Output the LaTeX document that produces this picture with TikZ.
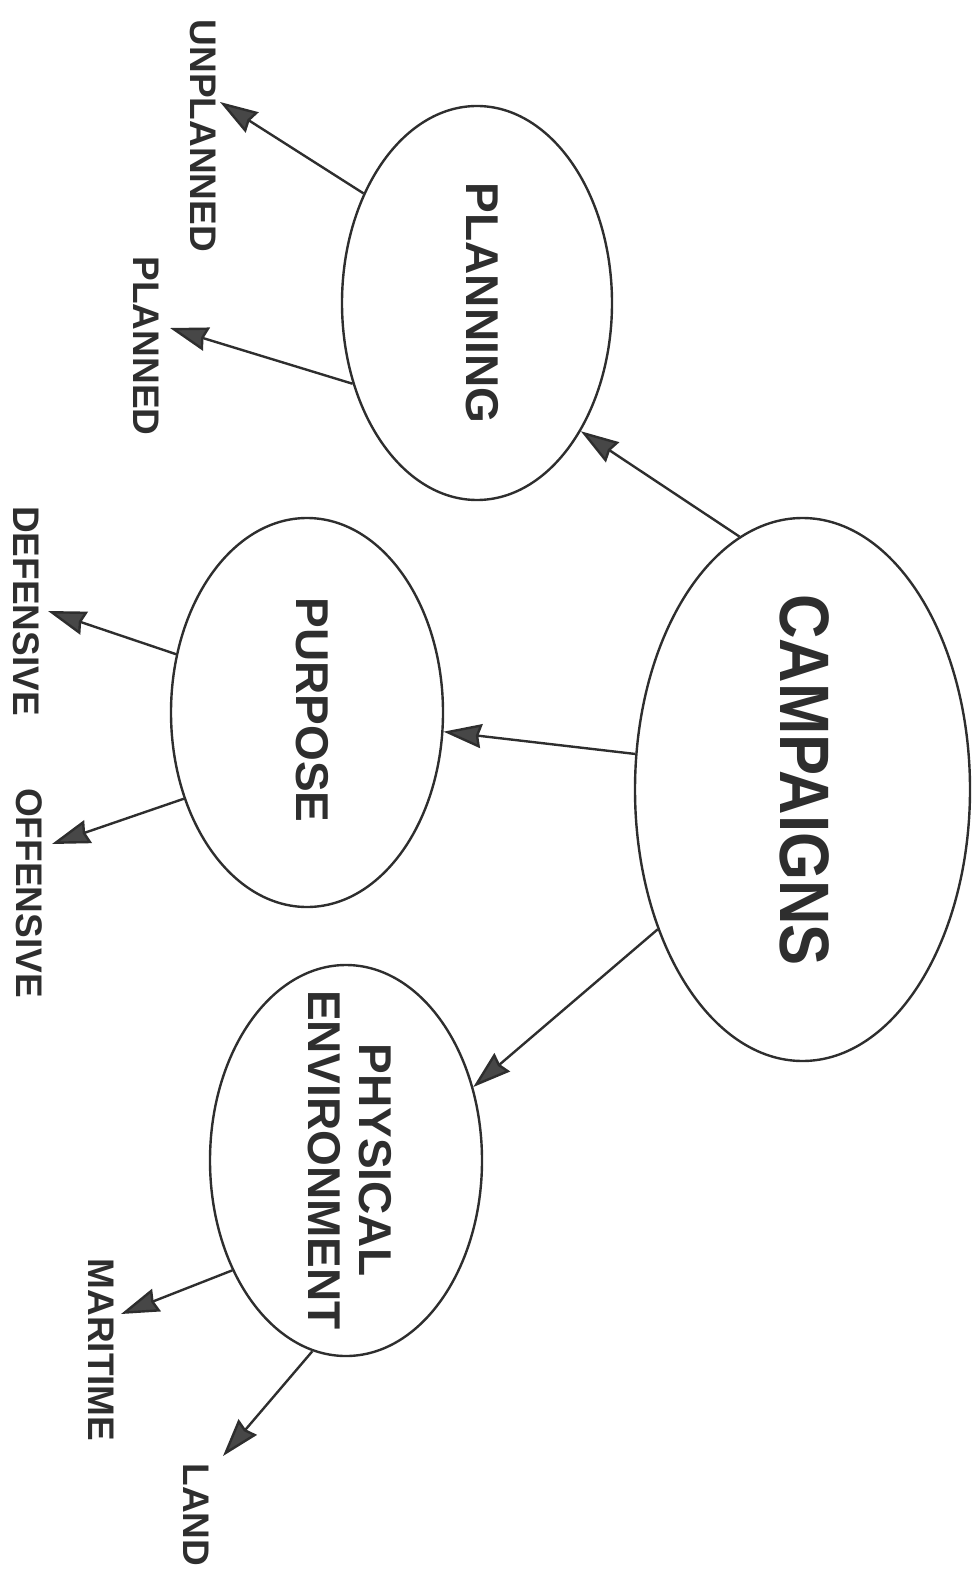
\documentclass[tikz,border=0pt]{standalone}
\usepackage{fontspec}
\setmainfont{Liberation Sans}
\usetikzlibrary{shapes.geometric,arrows.meta}
\definecolor{ink}{HTML}{2E2E2E}
\definecolor{headfill}{HTML}{474747}
\begin{document}
\begin{tikzpicture}[x=0.5pt,y=-0.5pt,
  oval/.style={draw=ink, line width=1.2pt, ellipse, inner sep=0pt},
  lbl/.style={text=ink, rotate=-90, inner sep=0pt, font=\bfseries\fontsize{18.5}{20}\selectfont},
  mid/.style={text=ink, rotate=-90, inner sep=0pt, align=center, font=\bfseries\fontsize{23}{25.5}\selectfont},
  big/.style={text=ink, rotate=-90, inner sep=0pt, font=\bfseries\fontsize{35}{40}\selectfont},
  conn/.style={draw=ink, line width=1.2pt, -{Stealth[length=19pt,width=12pt,inset=1.5pt,fill=headfill]}}]
\useasboundingbox (0,0) rectangle (978,1593);
% ellipses
\node[oval, minimum width=167.5pt, minimum height=271.5pt] (camp) at (802.5,789.5) {};
\node[oval, minimum width=135pt, minimum height=197pt] (plan) at (477,303) {};
\node[oval, minimum width=136pt, minimum height=194.5pt] (purp) at (307,712.5) {};
\node[oval, minimum width=136pt, minimum height=195.5pt] (phys) at (346,1160.5) {};
% texts inside
\node[big] (campT) at (805,780) {\scalebox{0.88}[1]{CAMPAIGNS}};
\node[mid] (planT) at (482,303) {PLANNING};
\node[mid] (purpT) at (312,710) {PURPOSE};
\node[mid] (physT) at (350,1160) {PHYSICAL\\ENVIRONMENT};
% leaf labels
\node[lbl] (unpl) at (203,136) {UNPLANNED};
\node[lbl] (pld) at (146,346) {PLANNED};
\node[lbl] (def) at (26,611) {DEFENSIVE};
\node[lbl] (off) at (29,893) {OFFENSIVE};
\node[lbl] (mar) at (101,1350) {MARITIME};
\node[lbl] (land) at (196,1515) {LAND};
% arrow tips
\coordinate (tUn) at (220,102);
\coordinate (tPl) at (170,328);
\coordinate (tDe) at (48,611);
\coordinate (tOf) at (52,844);
\coordinate (tMa) at (121,1314);
\coordinate (tLa) at (223,1456);
% connectors
\draw[conn] (camp.104.5) -- (plan.309.1);
\draw[conn] (camp.168.7) -- (purp.352.7);
\draw[conn] (camp.224.2) -- (phys.30.6);
\draw[conn] (plan.136) -- (tUn);
\draw[conn] (plan.213.8) -- (tPl);
\draw[conn] (purp.156.8) -- (tDe);
\draw[conn] (purp.215.8) -- (tOf);
\draw[conn] (phys.224.6) -- (tMa);
\draw[conn] (phys.260) -- (tLa);
\end{tikzpicture}
\end{document}
